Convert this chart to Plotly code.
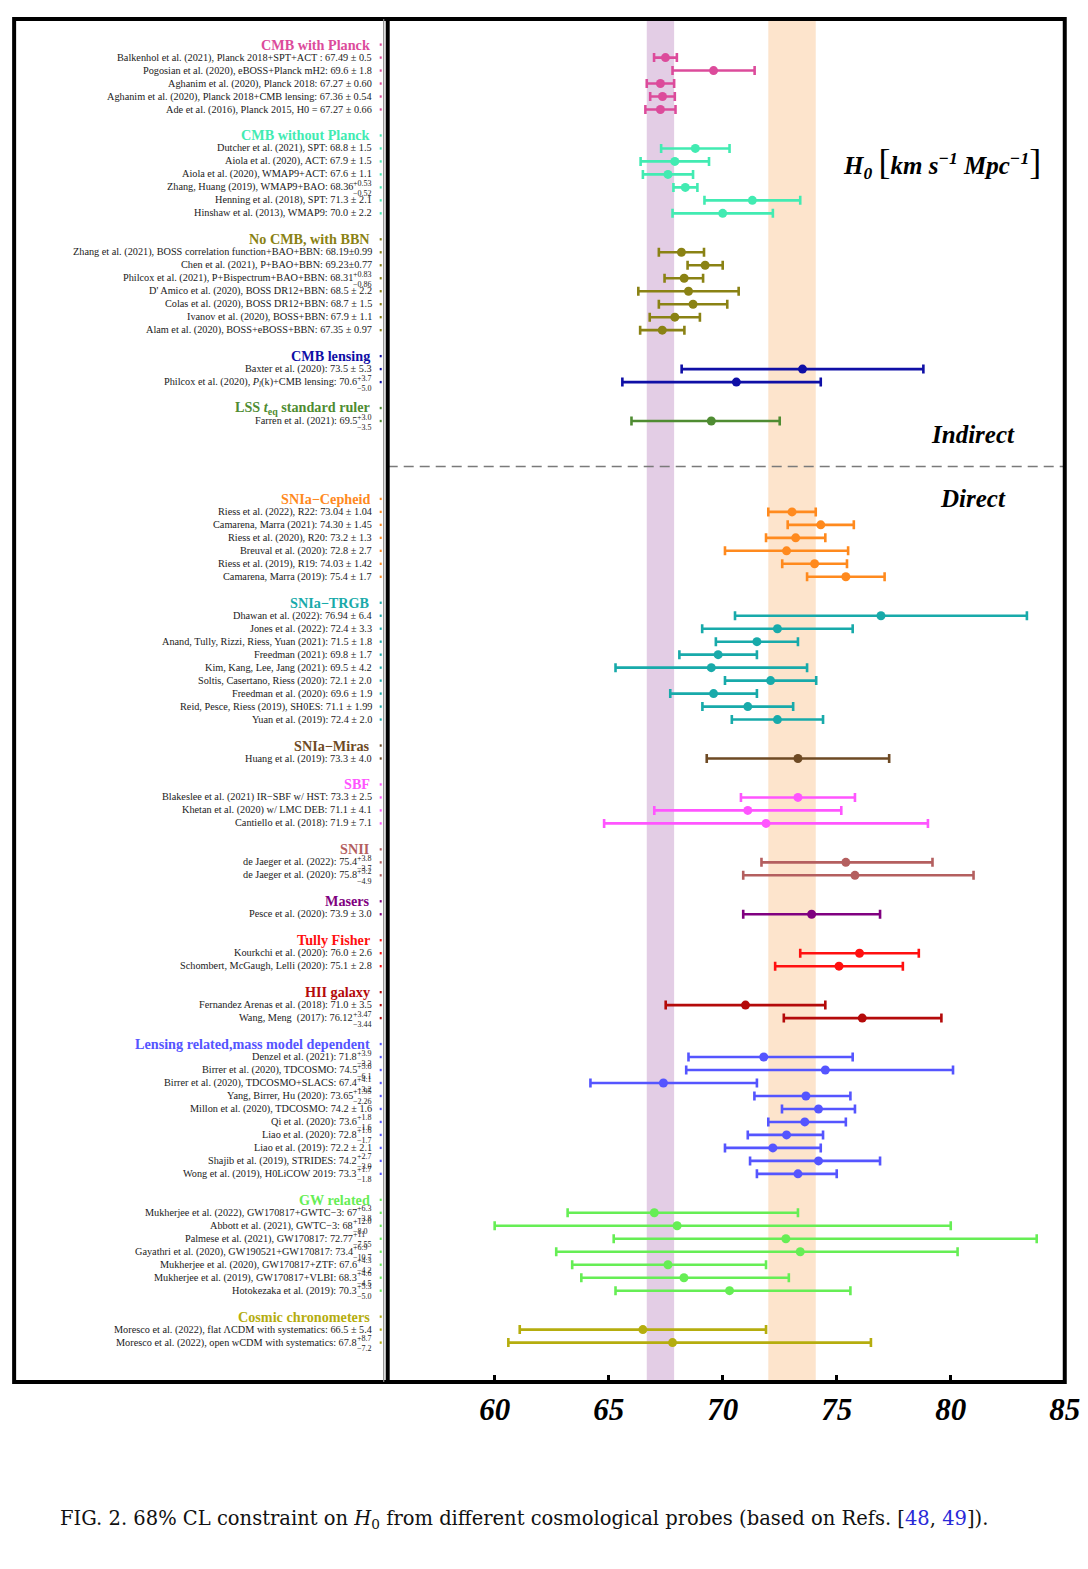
import re
import plotly.graph_objects as go

# page body has an 8px margin and the photographed page is compressed horizontally by S
OFF = 8
S = 0.9847
W = round(1088 / S) - 2 * OFF
H = 1569 - 2 * OFF - 8

# ---------------- data ----------------
group_names = ["CMB with Planck", "CMB without Planck", "No CMB, with BBN", "CMB lensing",
               "LSS <i>t</i><sub>eq</sub> standard ruler",
               "SNIa−Cepheid", "SNIa−TRGB", "SNIa−Miras", "SBF", "SNII", "Masers",
               "Tully Fisher", "HII galaxy", "Lensing related,mass model dependent",
               "GW related", "Cosmic chronometers"]
group_colors = ["#dc4b9b", "#42ebb2", "#8a8214", "#0f0fa6", "#4f8c32",
                "#ff8a1e", "#18aaaa", "#6e4a24", "#ff55ff", "#b45f5f", "#800080",
                "#ff1010", "#b40a0a", "#5555ff", "#66ee55", "#b5ad0e"]
n_indirect = 5

planck_refs = ["Balkenhol et al. (2021), Planck 2018+SPT+ACT : 67.49 ± 0.5",
               "Pogosian et al. (2020), eBOSS+Planck mH2: 69.6 ± 1.8",
               "Aghanim et al. (2020), Planck 2018: 67.27 ± 0.60",
               "Aghanim et al. (2020), Planck 2018+CMB lensing: 67.36 ± 0.54",
               "Ade et al. (2016), Planck 2015, H0 = 67.27 ± 0.66"]
planck_h0 = [67.49, 69.6, 67.27, 67.36, 67.27]
planck_up = [0.5, 1.8, 0.60, 0.54, 0.66]
planck_lo = [0.5, 1.8, 0.60, 0.54, 0.66]

noplanck_refs = ["Dutcher et al. (2021), SPT: 68.8 ± 1.5",
                 "Aiola et al. (2020), ACT: 67.9 ± 1.5",
                 "Aiola et al. (2020), WMAP9+ACT: 67.6 ± 1.1",
                 "Zhang, Huang (2019), WMAP9+BAO: 68.36{+0.53|−0.52}",
                 "Henning et al. (2018), SPT: 71.3 ± 2.1",
                 "Hinshaw et al. (2013), WMAP9: 70.0 ± 2.2"]
noplanck_h0 = [68.8, 67.9, 67.6, 68.36, 71.3, 70.0]
noplanck_up = [1.5, 1.5, 1.1, 0.53, 2.1, 2.2]
noplanck_lo = [1.5, 1.5, 1.1, 0.52, 2.1, 2.2]

bbn_refs = ["Zhang et al. (2021), BOSS correlation function+BAO+BBN: 68.19±0.99",
            "Chen et al. (2021), P+BAO+BBN: 69.23±0.77",
            "Philcox et al. (2021), P+Bispectrum+BAO+BBN: 68.31{+0.83|−0.86}",
            "D' Amico et al. (2020), BOSS DR12+BBN: 68.5 ± 2.2",
            "Colas et al. (2020), BOSS DR12+BBN: 68.7 ± 1.5",
            "Ivanov et al. (2020), BOSS+BBN: 67.9 ± 1.1",
            "Alam et al. (2020), BOSS+eBOSS+BBN: 67.35 ± 0.97"]
bbn_h0 = [68.19, 69.23, 68.31, 68.5, 68.7, 67.9, 67.35]
bbn_up = [0.99, 0.77, 0.83, 2.2, 1.5, 1.1, 0.97]
bbn_lo = [0.99, 0.77, 0.86, 2.2, 1.5, 1.1, 0.97]

cmblens_refs = ["Baxter et al. (2020): 73.5 ± 5.3",
                "Philcox et al. (2020), <i>P</i><sub><i>l</i></sub>(k)+CMB lensing: 70.6{+3.7|−5.0}"]
cmblens_h0 = [73.5, 70.6]
cmblens_up = [5.3, 3.7]
cmblens_lo = [5.3, 5.0]

lss_refs = ["Farren et al. (2021): 69.5{+3.0|−3.5}"]
lss_h0 = [69.5]
lss_up = [3.0]
lss_lo = [3.5]

ceph_refs = ["Riess et al. (2022), R22: 73.04 ± 1.04",
             "Camarena, Marra (2021): 74.30 ± 1.45",
             "Riess et al. (2020), R20: 73.2 ± 1.3",
             "Breuval et al. (2020): 72.8 ± 2.7",
             "Riess et al. (2019), R19: 74.03 ± 1.42",
             "Camarena, Marra (2019): 75.4 ± 1.7"]
ceph_h0 = [73.04, 74.30, 73.2, 72.8, 74.03, 75.4]
ceph_up = [1.04, 1.45, 1.3, 2.7, 1.42, 1.7]
ceph_lo = [1.04, 1.45, 1.3, 2.7, 1.42, 1.7]

trgb_refs = ["Dhawan et al. (2022): 76.94 ± 6.4",
             "Jones et al. (2022): 72.4 ± 3.3",
             "Anand, Tully, Rizzi, Riess, Yuan (2021): 71.5 ± 1.8",
             "Freedman (2021): 69.8 ± 1.7",
             "Kim, Kang, Lee, Jang (2021): 69.5 ± 4.2",
             "Soltis, Casertano, Riess (2020): 72.1 ± 2.0",
             "Freedman et al. (2020): 69.6 ± 1.9",
             "Reid, Pesce, Riess (2019), SH0ES: 71.1 ± 1.99",
             "Yuan et al. (2019): 72.4 ± 2.0"]
trgb_h0 = [76.94, 72.4, 71.5, 69.8, 69.5, 72.1, 69.6, 71.1, 72.4]
trgb_up = [6.4, 3.3, 1.8, 1.7, 4.2, 2.0, 1.9, 1.99, 2.0]
trgb_lo = [6.4, 3.3, 1.8, 1.7, 4.2, 2.0, 1.9, 1.99, 2.0]

miras_refs = ["Huang et al. (2019): 73.3 ± 4.0"]
miras_h0 = [73.3]
miras_up = [4.0]
miras_lo = [4.0]

sbf_refs = ["Blakeslee et al. (2021) IR−SBF w/ HST: 73.3 ± 2.5",
            "Khetan et al. (2020) w/ LMC DEB: 71.1 ± 4.1",
            "Cantiello et al. (2018): 71.9 ± 7.1"]
sbf_h0 = [73.3, 71.1, 71.9]
sbf_up = [2.5, 4.1, 7.1]
sbf_lo = [2.5, 4.1, 7.1]

snii_refs = ["de Jaeger et al. (2022): 75.4{+3.8|−3.7}",
             "de Jaeger et al. (2020): 75.8{+5.2|−4.9}"]
snii_h0 = [75.4, 75.8]
snii_up = [3.8, 5.2]
snii_lo = [3.7, 4.9]

masers_refs = ["Pesce et al. (2020): 73.9 ± 3.0"]
masers_h0 = [73.9]
masers_up = [3.0]
masers_lo = [3.0]

tf_refs = ["Kourkchi et al. (2020): 76.0 ± 2.6",
           "Schombert, McGaugh, Lelli (2020): 75.1 ± 2.8"]
tf_h0 = [76.0, 75.1]
tf_up = [2.6, 2.8]
tf_lo = [2.6, 2.8]

hii_refs = ["Fernandez Arenas et al. (2018): 71.0 ± 3.5",
            "Wang, Meng  (2017): 76.12{+3.47|−3.44}"]
hii_h0 = [71.0, 76.12]
hii_up = [3.5, 3.47]
hii_lo = [3.5, 3.44]

lens_refs = ["Denzel et al. (2021): 71.8{+3.9|−3.3}",
             "Birrer et al. (2020), TDCOSMO: 74.5{+5.6|−6.1}",
             "Birrer et al. (2020), TDCOSMO+SLACS: 67.4{+4.1|−3.2}",
             "Yang, Birrer, Hu (2020): 73.65{+1.95|−2.26}",
             "Millon et al. (2020), TDCOSMO: 74.2 ± 1.6",
             "Qi et al. (2020): 73.6{+1.8|−1.6}",
             "Liao et al. (2020): 72.8{+1.6|−1.7}",
             "Liao et al. (2019): 72.2 ± 2.1",
             "Shajib et al. (2019), STRIDES: 74.2{+2.7|−3.0}",
             "Wong et al. (2019), H0LiCOW 2019: 73.3{+1.7|−1.8}"]
lens_h0 = [71.8, 74.5, 67.4, 73.65, 74.2, 73.6, 72.8, 72.2, 74.2, 73.3]
lens_up = [3.9, 5.6, 4.1, 1.95, 1.6, 1.8, 1.6, 2.1, 2.7, 1.7]
lens_lo = [3.3, 6.1, 3.2, 2.26, 1.6, 1.6, 1.7, 2.1, 3.0, 1.8]

gw_refs = ["Mukherjee et al. (2022), GW170817+GWTC−3: 67{+6.3|−3.8}",
           "Abbott et al. (2021), GWTC−3: 68{+12.0|−8.0}",
           "Palmese et al. (2021), GW170817: 72.77{+11|−7.55}",
           "Gayathri et al. (2020), GW190521+GW170817: 73.4{+6.9|−10.7}",
           "Mukherjee et al. (2020), GW170817+ZTF: 67.6{+4.3|−4.2}",
           "Mukherjee et al. (2019), GW170817+VLBI: 68.3{+4.6|−4.5}",
           "Hotokezaka et al. (2019): 70.3{+5.3|−5.0}"]
gw_h0 = [67, 68, 72.77, 73.4, 67.6, 68.3, 70.3]
gw_up = [6.3, 12.0, 11, 6.9, 4.3, 4.6, 5.3]
gw_lo = [3.8, 8.0, 7.55, 10.7, 4.2, 4.5, 5.0]

cc_refs = ["Moresco et al. (2022), flat ΛCDM with systematics: 66.5 ± 5.4",
           "Moresco et al. (2022), open wCDM with systematics: 67.8{+8.7|−7.2}"]
cc_h0 = [66.5, 67.8]
cc_up = [5.4, 8.7]
cc_lo = [5.4, 7.2]

x_ticks = [60, 65, 70, 75, 80, 85]
x_tick_labels = ["60", "65", "70", "75", "80", "85"]

groups = [
    (planck_refs, planck_h0, planck_up, planck_lo),
    (noplanck_refs, noplanck_h0, noplanck_up, noplanck_lo),
    (bbn_refs, bbn_h0, bbn_up, bbn_lo),
    (cmblens_refs, cmblens_h0, cmblens_up, cmblens_lo),
    (lss_refs, lss_h0, lss_up, lss_lo),
    (ceph_refs, ceph_h0, ceph_up, ceph_lo),
    (trgb_refs, trgb_h0, trgb_up, trgb_lo),
    (miras_refs, miras_h0, miras_up, miras_lo),
    (sbf_refs, sbf_h0, sbf_up, sbf_lo),
    (snii_refs, snii_h0, snii_up, snii_lo),
    (masers_refs, masers_h0, masers_up, masers_lo),
    (tf_refs, tf_h0, tf_up, tf_lo),
    (hii_refs, hii_h0, hii_up, hii_lo),
    (lens_refs, lens_h0, lens_up, lens_lo),
    (gw_refs, gw_h0, gw_up, gw_lo),
    (cc_refs, cc_h0, cc_up, cc_lo),
]

# ---------------- layout helpers ----------------
SERIF = "Liberation Serif, Times New Roman, serif"
def px(xp):  # target picture pixel -> paper x
    return (xp / S - OFF) / W
def py(yp):  # target picture pixel -> paper y
    return 1 - (yp - OFF) / H

LABEL_RIGHT = 371
HEAD_RIGHT = 369
DOT_X = 380
LABEL_SIZE = 10.25
STACK_SIZE = 8

def char_w(c):
    if c.isdigit():
        return 0.5
    if c == ".":
        return 0.25
    return 0.564

def stack_width(a, b):
    return max(sum(char_w(c) for c in a), sum(char_w(c) for c in b)) * STACK_SIZE

fig = go.Figure()
annotations = []
shapes = []

# assign rows
r = 0
header_rows, entry_rows = [], []
for gi, g in enumerate(groups):
    if gi > 0:
        r += 6 if gi == n_indirect else 2
    header_rows.append(r)
    rows = [r + 1 + k for k in range(len(g[0]))]
    entry_rows.append(rows)
    r = rows[-1]

TXT = "#1a1a1a"
for gi, (refs, h0, up, lo) in enumerate(groups):
    col = group_colors[gi]
    rows = entry_rows[gi]
    fig.add_trace(go.Scatter(
        x=h0, y=rows, mode="markers",
        marker=dict(color=col, size=9),
        error_x=dict(type="data", symmetric=False, array=up, arrayminus=lo,
                     color=col, thickness=2.6, width=4.5),
        showlegend=False, hoverinfo="skip", cliponaxis=False))
    annotations.append(dict(x=px(HEAD_RIGHT), y=header_rows[gi], xref="paper", yref="y",
                            text=group_names[gi], showarrow=False, xanchor="right",
                            yanchor="middle", borderpad=0, borderwidth=0,
                            font=dict(family=SERIF, size=14.2, color=col, weight="bold")))
    for rr in [header_rows[gi]] + rows:
        shapes.append(dict(type="rect", xref="paper", yref="y",
                           x0=px(DOT_X - 1), x1=px(DOT_X + 1), y0=rr - 0.09, y1=rr + 0.09,
                           fillcolor=col, line=dict(width=0)))
    for ref, rr in zip(refs, rows):
        m = re.match(r"^(.*)\{([^|]*)\|([^}]*)\}$", ref)
        if m:
            main, a, b = m.group(1), m.group(2), m.group(3)
            xs = LABEL_RIGHT - stack_width(a, b)
            annotations.append(dict(x=px(xs - 0.3), y=rr, xref="paper", yref="y", text=main,
                                    showarrow=False, xanchor="right", yanchor="middle",
                                    borderpad=0, borderwidth=0,
                                    font=dict(family=SERIF, size=LABEL_SIZE, color=TXT)))
            annotations.append(dict(x=px(xs), y=rr, xref="paper", yref="y",
                                    text=a + "<br>" + b, align="left",
                                    showarrow=False, xanchor="left", yanchor="middle",
                                    borderpad=0, borderwidth=0, yshift=-1,
                                    font=dict(family=SERIF, size=STACK_SIZE, color=TXT)))
        else:
            annotations.append(dict(x=px(LABEL_RIGHT), y=rr, xref="paper", yref="y", text=ref,
                                    showarrow=False, xanchor="right", yanchor="middle",
                                    borderpad=0, borderwidth=0,
                                    font=dict(family=SERIF, size=LABEL_SIZE, color=TXT)))

# reference bands (Planck 2018 and R22)
shapes.insert(0, dict(type="rect", xref="x", yref="y domain",
                      x0=planck_h0[2] - planck_lo[2], x1=planck_h0[2] + planck_up[2], y0=0, y1=1,
                      fillcolor="#e3cde5", line=dict(width=0), layer="below"))
shapes.insert(0, dict(type="rect", xref="x", yref="y domain",
                      x0=ceph_h0[0] - ceph_lo[0], x1=ceph_h0[0] + ceph_up[0], y0=0, y1=1,
                      fillcolor="#fde4cc", line=dict(width=0), layer="below"))

# indirect / direct separator
sep = header_rows[n_indirect] - 2.5
shapes.append(dict(type="line", xref="x domain", yref="y", x0=0, x1=1, y0=sep, y1=sep,
                   line=dict(color="#7a7a7a", width=1.6, dash="10px,6px")))

# frame
FL, FT, FR, FB, DIV = 14, 19, 1063, 1382, 386
shapes.append(dict(type="rect", xref="paper", yref="paper", x0=px(FL), x1=px(FR),
                   y0=py(FB), y1=py(FT), line=dict(color="black", width=4)))
shapes.append(dict(type="line", xref="paper", yref="paper", x0=px(383), x1=px(383),
                   y0=py(FB), y1=py(FT), line=dict(color="#888888", width=1.2)))
shapes.append(dict(type="line", xref="paper", yref="paper", x0=px(DIV + 1), x1=px(DIV + 1),
                   y0=py(FB), y1=py(FT), line=dict(color="black", width=4)))

BIG = dict(family=SERIF, size=25, color="black", weight="bold", style="italic")
brk = "<span style='font-size:36px;font-weight:normal;font-style:normal'>%s</span>"
annotations.append(dict(x=px(940), y=py(162), xref="paper", yref="paper", showarrow=False,
                        xanchor="center", yanchor="middle",
                        text="H<sub>0</sub> " + brk % "[" + "km s<sup>−1</sup> Mpc<sup>−1</sup>" + brk % "]",
                        font=BIG))
annotations.append(dict(x=px(971), y=header_rows[n_indirect] - 5, xref="paper", yref="y",
                        xanchor="center", yanchor="middle",
                        showarrow=False, text="Indirect", font=BIG))
annotations.append(dict(x=px(971), y=header_rows[n_indirect], xref="paper", yref="y",
                        xanchor="center", yanchor="middle",
                        showarrow=False, text="Direct", font=BIG))

# caption
annotations.append(dict(x=px(58), y=py(1519), xref="paper", yref="paper", showarrow=False,
                        xanchor="left", yanchor="middle",
                        text="FIG. 2. 68% CL constraint on <i>H</i><sub>0</sub> from different cosmological probes (based on Refs. [<span style='color:#2a2ad8'>48</span>, <span style='color:#2a2ad8'>49</span>]).",
                        font=dict(family="DejaVu Serif, serif", size=19.5, color="#111111")))

ROW0 = 44.6
y_top = -(ROW0 - FT) / 12.98
y_bot = 100 + (FB - (ROW0 + 1298)) / 12.98
fig.update_layout(
    width=W, height=H, margin=dict(l=0, r=0, t=0, b=0),
    paper_bgcolor="white", plot_bgcolor="white",
    xaxis=dict(domain=[px(DIV + 1), px(FR)], range=[55.31, 85.0],
               tickvals=x_ticks, ticktext=x_tick_labels,
               ticks="inside", ticklen=7, tickwidth=3, tickcolor="black",
               showgrid=False, zeroline=False, showline=False, ticklabelstandoff=6,
               tickfont=dict(family=SERIF, size=31, color="black", weight="bold", style="italic")),
    yaxis=dict(domain=[py(FB), py(FT)], range=[y_bot, y_top], visible=False),
    annotations=annotations, shapes=shapes,
)

fig.write_html("out.html")
